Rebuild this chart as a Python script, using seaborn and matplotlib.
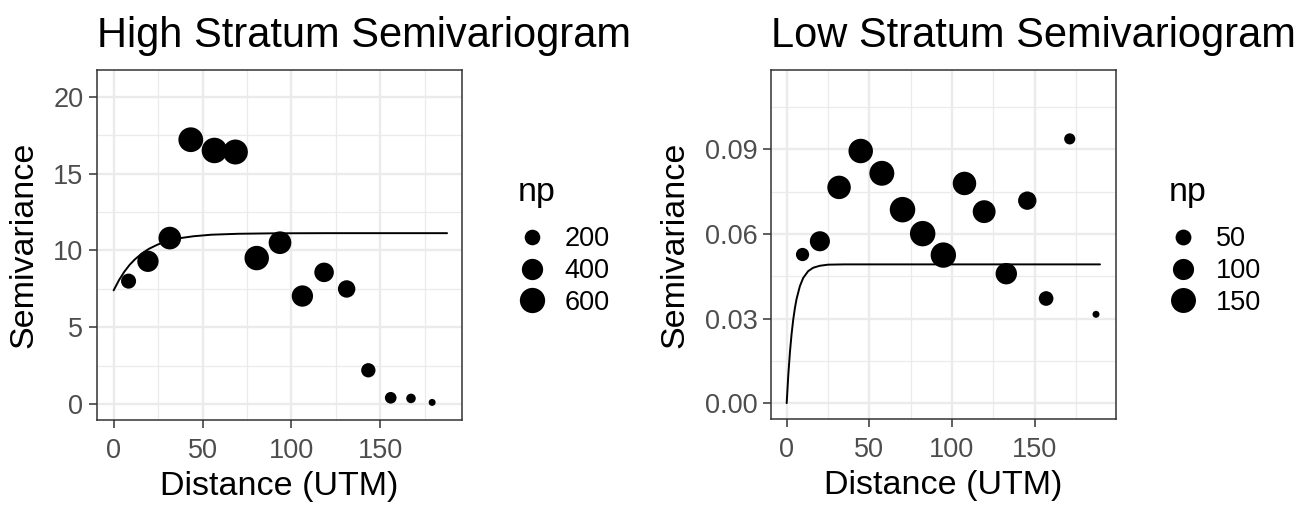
import numpy as np
import pandas as pd
import matplotlib
matplotlib.use("Agg")
import matplotlib.pyplot as plt
import seaborn as sns
from matplotlib.lines import Line2D
from matplotlib.ticker import MultipleLocator, FormatStrFormatter

# ---------------- data ----------------
high_dist = [8.4, 19.3, 31.6, 43.4, 56.7, 68.5, 80.5, 93.6, 106.2, 118.4, 131.1, 143.3, 155.9, 167.3, 179.2]
high_gamma = [8.0, 9.29, 10.8, 17.2, 16.5, 16.4, 9.5, 10.5, 7.03, 8.57, 7.49, 2.2, 0.41, 0.37, 0.11]
high_np = [186, 401, 464, 571, 612, 583, 554, 464, 401, 328, 254, 169, 120, 97, 87]

high_model_dist = [0, 3, 6, 9, 12, 16, 20, 25, 30, 37, 45, 55, 70, 90, 120, 187.6]
high_model_gamma = [7.40, 8.06, 8.61, 9.06, 9.42, 9.81, 10.11, 10.39, 10.60, 10.79, 10.92, 11.02, 11.08, 11.11, 11.12, 11.12]

low_dist = [9.6, 20.1, 31.7, 44.8, 57.6, 70.1, 82.3, 94.8, 107.6, 119.5, 132.9, 145.6, 157.0, 171.3, 187.2]
low_gamma = [0.0527, 0.0574, 0.0765, 0.0894, 0.0815, 0.0686, 0.0601, 0.0525, 0.0779, 0.0679, 0.0459, 0.0718, 0.0371, 0.0937, 0.0315]
low_np = [34, 88, 129, 143, 149, 158, 157, 156, 129, 121, 103, 71, 42, 25, 18]

low_model_dist = [0, 1, 2, 3, 4, 5, 6, 8, 10, 13, 16, 20, 25, 35, 50, 189.6]
low_model_gamma = [0.0, 0.0102, 0.0183, 0.0247, 0.0298, 0.0338, 0.0370, 0.0415, 0.0444, 0.0468, 0.0480, 0.0487, 0.0491, 0.0492, 0.0492, 0.0492]

high_legend_np = [200, 400, 600]
low_legend_np = [50, 100, 150]

titles = ["High Stratum Semivariogram", "Low Stratum Semivariogram"]
x_label = "Distance (UTM)"
y_label = "Semivariance"

# ---------------- style ----------------
DPI = 100
W, H = 1309, 505
sns.set_theme(style="white")
plt.rcParams["font.family"] = ["Liberation Sans", "DejaVu Sans"]
plt.rcParams["text.color"] = "black"
plt.rcParams["axes.labelcolor"] = "black"

fig = plt.figure(figsize=(W / DPI, H / DPI), dpi=DPI)

D_MIN_PX, D_MAX_PX = 7.0, 25.5
TICK_FS = 19.5
LEG_FS = 19.5


def diam_pt(v, vmin, vmax):
    t = (v - vmin) / (vmax - vmin)
    t = min(max(t, 0.0), 1.0)
    return (D_MIN_PX + (D_MAX_PX - D_MIN_PX) * np.sqrt(t)) * 72.0 / DPI


def panel(rect, dist, gamma, npairs, mdist, mgamma, xlim, ylim, ymajor, yminor,
          yfmt, title, leg_vals, leg_anchor, ylabelpad):
    ax = fig.add_axes(rect)
    vmin, vmax = min(npairs), max(npairs)
    df = pd.DataFrame({"dist": dist, "gamma": gamma, "np": npairs})
    sizes = {v: diam_pt(v, vmin, vmax) ** 2 for v in sorted(set(npairs))}
    mdf = pd.DataFrame({"dist": mdist, "gamma": mgamma})
    sns.lineplot(data=mdf, x="dist", y="gamma", color="black", lw=1.4, ax=ax,
                 estimator=None, sort=False)
    sns.scatterplot(data=df, x="dist", y="gamma", size="np", sizes=sizes,
                    color="black", linewidth=0, legend=False, ax=ax, zorder=3)
    ax.set_xlim(*xlim)
    ax.set_ylim(*ylim)
    ax.xaxis.set_major_locator(MultipleLocator(50))
    ax.xaxis.set_minor_locator(MultipleLocator(25))
    ax.yaxis.set_major_locator(MultipleLocator(ymajor))
    ax.yaxis.set_minor_locator(MultipleLocator(yminor))
    if yfmt:
        ax.yaxis.set_major_formatter(FormatStrFormatter(yfmt))
    ax.grid(which="major", color="#EBEBEB", lw=1.7)
    ax.grid(which="minor", color="#EBEBEB", lw=0.9)
    ax.set_axisbelow(True)
    for s in ax.spines.values():
        s.set_color("#333333")
        s.set_linewidth(1.1)
    ax.tick_params(which="major", length=5.8, width=1.1, color="#333333",
                   labelcolor="#4D4D4D", labelsize=TICK_FS, pad=4,
                   bottom=True, left=True)
    ax.tick_params(axis="x", which="major", pad=7)
    ax.tick_params(which="minor", length=0)
    ax.set_xlabel(x_label, fontsize=24.5, color="black", labelpad=5)
    ax.set_ylabel(y_label, fontsize=24.5, color="black", labelpad=ylabelpad)
    fig.text(rect[0], 1 - 47 / H, title, fontsize=30, ha="left",
             va="baseline", color="black")
    handles = [Line2D([], [], marker="o", linestyle="", color="black",
                      markeredgewidth=0, markersize=diam_pt(v, vmin, vmax))
               for v in leg_vals]
    leg = ax.legend(handles, [str(v) for v in leg_vals], title="np",
                    loc="upper left", bbox_to_anchor=leg_anchor,
                    bbox_transform=fig.transFigure, frameon=False,
                    fontsize=LEG_FS, title_fontsize=24.5, borderpad=0,
                    handlelength=1.0, handletextpad=0.72, labelspacing=0.22,
                    alignment="left", borderaxespad=0)
    leg._legend_box.sep = 13
    return ax


panel([97 / W, (H - 420) / H, 365 / W, 350 / H], high_dist, high_gamma, high_np,
      high_model_dist, high_model_gamma, (-9.36, 196.0), (-1.035, 21.735),
      5, 2.5, None, titles[0], high_legend_np, (518 / W, 1 - 177 / H), 10)

panel([771 / W, (H - 419) / H, 345 / W, 349 / H], low_dist, low_gamma, low_np,
      low_model_dist, low_model_gamma, (-9.49, 199.3), (-0.005625, 0.118125),
      0.03, 0.015, "%.2f", titles[1], low_legend_np, (1169 / W, 1 - 177 / H), 10)

fig.savefig("out.png", dpi=DPI)
